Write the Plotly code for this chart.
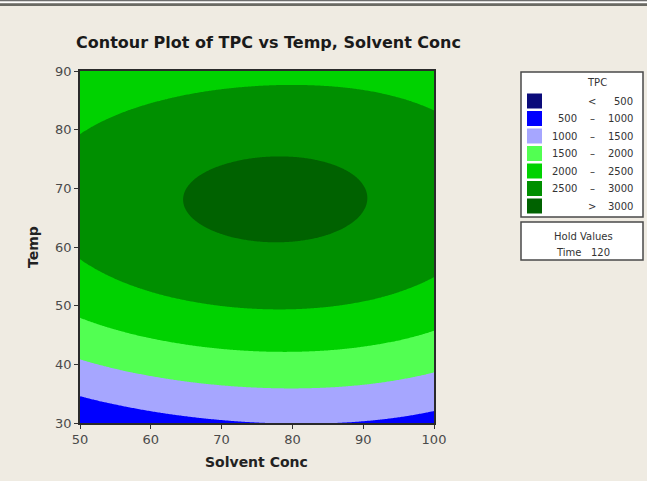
import numpy as np
import plotly.graph_objects as go

# Axis definitions
solvent_range = [50, 100]
temp_range = [30, 90]
x_ticks = [50, 60, 70, 80, 90, 100]
y_ticks = [30, 40, 50, 60, 70, 80, 90]

# Points (Solvent Conc, Temp) lying on each TPC contour level, Time held at 120
pts_1000 = [(50, 35.2), (55, 34.0), (60, 32.8), (65, 31.6), (70, 30.5), (74, 30.2),
            (78.5, 30.0), (83.5, 30.0), (86, 30.2), (88, 30.4), (92, 30.9), (96, 31.4),
            (100, 32.0)]
pts_1500 = [(50, 39.5), (58, 37.4), (66, 36.1), (74, 35.5), (80, 35.4), (88, 35.8),
            (94, 36.7), (100, 38.0)]
pts_2000 = [(50, 47.7), (58, 44.6), (66, 42.5), (74, 41.3), (80, 41.1), (88, 41.8),
            (94, 43.2), (100, 45.0), (50, 91.0)]
pts_2500 = [(50, 58.5), (58, 55.0), (66, 52.5), (74, 51.2), (80, 51.0), (88, 52.2),
            (94, 53.8), (100, 55.5),
            (50, 79.5), (55, 81.5), (60, 83.2), (66, 85.8), (71, 87.3), (76, 88.0),
            (82, 88.0), (90, 86.8), (95, 85.2), (100, 83.2)]
pts_3000 = [(64.0, 67.9), (65.5, 71.4), (68.5, 73.3), (73.0, 74.8), (78.0, 75.3),
            (83.0, 74.7), (87.0, 73.2), (89.5, 71.4), (91.0, 67.9), (89.5, 64.5),
            (87.0, 62.6), (83.0, 61.1), (78.0, 60.6), (73.0, 61.1), (68.5, 62.6),
            (65.5, 64.5)]
# estimated TPC at the optimum and at the two lower corners
spot_values = [(78.0, 67.9, 3070), (50.0, 30.0, 650), (100.0, 30.0, 820)]

# Contour bands and their colours
band_labels = [("", "<", "500"), ("500", "\u2013", "1000"), ("1000", "\u2013", "1500"),
               ("1500", "\u2013", "2000"), ("2000", "\u2013", "2500"),
               ("2500", "\u2013", "3000"), ("", ">", "3000")]
band_colors = ["#0B0B7A", "#0000FF", "#A6A6FF", "#52FF52", "#00D200", "#008F00", "#006200"]
level_start, level_end, level_step = 500, 3000, 500

hold_title = "Hold Values"
hold_label, hold_value = "Time", "120"

# ---- smooth surface through the contour points (weighted polynomial least squares) ----
samples, weights = [], []
for level, pts, w in [(1000, pts_1000, 1.0), (1500, pts_1500, 1.0), (2000, pts_2000, 1.0),
                      (2500, pts_2500, 1.5), (3000, pts_3000, 5.0)]:
    samples += [(a, b, level) for a, b in pts]
    weights += [w] * len(pts)
samples += spot_values
weights += [5.0, 1.0, 1.0]
samples = np.array(samples, dtype=float)
weights = np.array(weights)


def basis(S, T, deg=4):
    u = (np.asarray(S) - 75.0) / 25.0
    v = (np.asarray(T) - 60.0) / 30.0
    cols = []
    for i in range(deg + 1):
        for j in range(deg + 1 - i):
            cols.append(u ** i * v ** j)
    return np.stack(cols, axis=-1)


A = basis(samples[:, 0], samples[:, 1]) * weights[:, None]
y = samples[:, 2] * weights
coef = np.linalg.solve(A.T @ A + 1e-3 * np.eye(A.shape[1]), A.T @ y)

s = np.linspace(solvent_range[0], solvent_range[1], 301)
t = np.linspace(temp_range[0], temp_range[1], 361)
S, T = np.meshgrid(s, t)
Z = basis(S, T) @ coef

# stepped colour scale: band k sits at k/6
n = len(band_colors)
colorscale = []
for k, c in enumerate(band_colors):
    lo = max(0.0, (k - 0.5) / (n - 1))
    hi = min(1.0, (k + 0.5) / (n - 1))
    colorscale.append([lo, c])
    colorscale.append([hi, c])

fig = go.Figure(go.Contour(
    x=s, y=t, z=Z,
    autocontour=False,
    contours=dict(start=level_start, end=level_end, size=level_step,
                  coloring="fill", showlines=False),
    line=dict(width=0),
    colorscale=colorscale,
    showscale=False,
    hoverinfo="skip",
))

W, H = 647, 481
ML, MR, MT, MB = 80, 213, 71, 58
PW, PH = W - ML - MR, H - MT - MB


def px(xp):
    return (xp - ML) / PW


def py(yp):
    return (H - MB - yp) / PH


FONT = "DejaVu Sans"
TEXT = "#333333"

shapes = []
annotations = []


def label(x, y, text, size=10, color=TEXT, xanchor="center", angle=0):
    annotations.append(dict(x=px(x), y=py(y), xref="paper", yref="paper", text=text,
                            xanchor=xanchor, yanchor="middle", textangle=angle,
                            showarrow=False, font=dict(family=FONT, size=size, color=color)))


def box(x0, y0, x1, y1, fill, line=None):
    shapes.append(dict(type="rect", xref="paper", yref="paper",
                       x0=px(x0), x1=px(x1), y0=py(y1), y1=py(y0), fillcolor=fill,
                       line=line or dict(width=0), layer="above"))


# window border lines along the top
box(0, 0, W, 1.5, "#6E6E6E")
box(0, 1.5, W, 3.2, "#FFFFFF")
box(0, 3.2, W, 6, "#6A6A64")

# legend box
box(521, 72, 643, 217, "#FFFFFF", dict(color="#4A4A4A", width=1.5))
label(597, 83, "TPC")
row_y0, row_dy = 101, 17.5
for i, ((lo, sep, hi), c) in enumerate(zip(band_labels, band_colors)):
    yc = row_y0 + i * row_dy
    box(527, yc - 7.5, 542, yc + 7.5, c)
    if lo:
        label(579, yc, lo, xanchor="right")
    label(592, yc, sep)
    label(635, yc, hi, xanchor="right")

# hold values box
box(521, 222, 643, 260, "#FFFFFF", dict(color="#4A4A4A", width=1.5))
label(583, 236, hold_title)
label(583, 252, f"{hold_label}\u00a0\u00a0\u00a0{hold_value}")

# titles
label(268, 43, "<b>Contour Plot of TPC vs Temp, Solvent Conc</b>", size=16, color="#1A1A1A")
label(256, 462, "<b>Solvent Conc</b>", size=14, color="#222222")
label(33, 247, "<b>Temp</b>", size=14, color="#222222", angle=-90)

fig.update_layout(
    width=W, height=H,
    margin=dict(l=ML, r=MR, t=MT, b=MB),
    paper_bgcolor="#EFEBE2",
    plot_bgcolor="#EFEBE2",
    shapes=shapes,
    annotations=annotations,
    showlegend=False,
)
axis_common = dict(showgrid=False, zeroline=False, ticks="outside", ticklen=4,
                   tickwidth=1, tickcolor="#333333", showline=True, linecolor="#2A2A2A",
                   linewidth=1.5, mirror=True,
                   tickfont=dict(family=FONT, size=13, color="#4A4A4A"))
fig.update_xaxes(range=solvent_range, tickvals=x_ticks, **axis_common)
fig.update_yaxes(range=temp_range, tickvals=y_ticks, **axis_common)

fig.write_html("out.html")
